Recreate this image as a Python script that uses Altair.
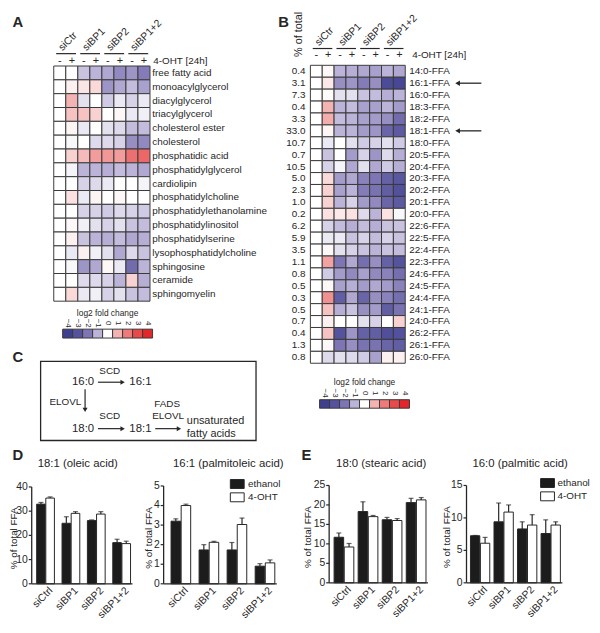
import altair as alt
import pandas as pd

FONT = "Liberation Sans"
INK = "#262626"

# ---------------- data ----------------
signs = ["-", "+"]
A_groups = ["siCtr", "siBP1", "siBP2", "siBP1+2"]
A_lipids = ["free fatty acid", "monoacylglycerol", "diacylglycerol", "triacylglycerol",
            "cholesterol ester", "cholesterol", "phosphatidic acid", "phosphatidylglycerol",
            "cardiolipin", "phosphatidylcholine", "phosphatidylethanolamine",
            "phosphatidylinositol", "phosphatidylserine", "lysophosphatidylcholine",
            "sphingosine", "ceramide", "sphingomyelin"]
A_log2fc = [
    [0, 0.0, -0.8, -1.0, -1.2, -1.7, -1.5, -1.9],
    [0, 0.2, 0.35, 0.5, -1.5, -1.2, -0.9, -1.3],
    [0, 1.0, -0.4, 0.0, -0.7, -0.3, -0.6, -0.3],
    [0, 0.8, 0.8, 0.6, 0.0, 0.1, -0.3, -0.2],
    [0, 0.15, -0.3, 0.0, -0.4, -0.5, -0.9, -0.9],
    [0, -0.1, 0.0, -0.5, -0.5, -0.6, -1.6, -1.7],
    [0, 0.6, 0.9, 1.4, 1.5, 1.4, 2.2, 2.4],
    [0, -0.15, -1.0, -1.0, -1.1, -0.9, -1.0, -1.2],
    [0, 0.0, -0.6, -0.5, -0.3, 0.0, 0.0, -0.15],
    [0, 0.4, -0.3, 0.15, 0.0, 0.1, 0.0, 0.0],
    [0, 0.0, -0.6, -0.6, -0.7, -0.5, -0.6, -0.7],
    [0, 0.1, -0.2, -0.4, -0.6, -0.4, -0.8, -0.9],
    [0, 0.2, -0.8, -1.0, -1.1, -0.9, -1.2, -1.1],
    [0, -0.3, 0.2, -0.2, -0.4, -1.2, -0.5, -0.8],
    [0, -0.1, -1.5, -1.2, 0.1, -0.3, -2.3, -1.0],
    [0, 0.0, -0.5, -0.5, -0.6, -1.0, 0.6, -1.1],
    [0, 0.5, -0.3, -0.2, -0.6, -0.4, -0.8, -0.9],
]

B_groups = ["siCtr", "siBP1", "siBP2", "siBP1+2"]
B_ffa = ["14:0-FFA", "16:1-FFA", "16:0-FFA", "18:3-FFA", "18:2-FFA", "18:1-FFA", "18:0-FFA",
         "20:5-FFA", "20:4-FFA", "20:3-FFA", "20:2-FFA", "20:1-FFA", "20:0-FFA", "22:6-FFA",
         "22:5-FFA", "22:4-FFA", "22:3-FFA", "24:6-FFA", "24:5-FFA", "24:4-FFA", "24:1-FFA",
         "24:0-FFA", "26:2-FFA", "26:1-FFA", "26:0-FFA"]
B_pct = [0.4, 3.1, 7.3, 0.4, 3.3, 33.0, 10.7, 0.7, 10.5, 5.0, 2.3, 1.0, 0.2, 6.2, 5.9, 3.5,
         1.1, 0.8, 0.5, 0.3, 0.5, 0.7, 0.4, 1.3, 0.8]
B_log2fc = [
    [0, 0.1, -1.0, -1.1, -1.2, -1.3, -1.0, -1.2],
    [0, 0.3, -1.6, -1.5, -1.9, -1.6, -3.4, -3.6],
    [0, 0.05, -0.4, -0.4, -0.8, -0.9, -1.1, -1.0],
    [0, 1.0, -1.0, -0.9, -1.3, -1.3, -1.0, -1.4],
    [0, 1.1, -0.9, -1.0, -1.3, -1.4, -1.6, -2.3],
    [0, 0.15, -1.0, -1.0, -1.4, -1.5, -2.5, -2.8],
    [0, -0.3, 0.0, -0.4, -0.7, -0.6, -0.4, -0.7],
    [0, -0.8, 0.0, -1.4, -0.6, -1.5, -0.5, -1.1],
    [0, -0.6, -0.15, -1.2, -0.4, -1.2, -0.7, -1.1],
    [0, 0.5, -1.4, -1.2, -1.8, -2.0, -2.6, -2.9],
    [0, 0.6, -1.3, -1.0, -1.9, -2.1, -2.7, -3.1],
    [0, 0.6, -1.0, -0.6, -1.4, -1.7, -2.5, -2.8],
    [0, 0.4, 0.3, 0.4, -0.5, -1.0, 0.4, -0.1],
    [0, -0.6, -0.9, -1.1, -0.9, -1.1, -0.8, -0.8],
    [0, -0.3, -0.3, -0.8, -0.6, -0.9, -0.6, -0.8],
    [0, 0.1, -0.4, -0.6, -0.8, -1.0, -0.8, -0.9],
    [0, 1.3, -2.0, -1.2, -2.2, -1.6, -2.6, -3.0],
    [0, -0.7, -1.4, -1.7, -1.3, -1.7, -1.8, -2.2],
    [0, 0.1, -1.3, -1.1, -1.4, -1.2, -1.4, -1.8],
    [0, 1.6, -2.7, -1.2, -2.5, -1.6, -1.8, -2.2],
    [0, 0.8, -1.1, -0.8, -1.6, -1.4, -2.7, -2.1],
    [0, 0.2, 0.0, 0.0, -0.4, -0.6, 0.0, 0.6],
    [0, 0.8, -3.0, -1.5, -2.6, -2.7, -3.2, -3.1],
    [0, 0.1, -2.0, -1.6, -2.1, -2.1, -2.5, -2.7],
    [0, -0.5, -0.4, -0.5, -0.7, -1.3, 0.2, 0.2],
]
B_marked = ["16:1-FFA", "18:1-FFA"]

legend_steps = [-4, -3, -2, -1, 0, 1, 2, 3, 4]

bar_groups = ["siCtrl", "siBP1", "siBP2", "siBP1+2"]
treatments = ["ethanol", "4-OHT"]

oleic_eth = [32.9, 25.0, 26.1, 17.0]
oleic_eth_err = [0.7, 2.7, 0.3, 1.4]
oleic_oht = [35.4, 29.1, 28.8, 16.6]
oleic_oht_err = [0.5, 0.7, 1.0, 1.0]

palmitoleic_eth = [3.2, 1.73, 1.73, 0.9]
palmitoleic_eth_err = [0.12, 0.27, 0.38, 0.13]
palmitoleic_oht = [4.0, 2.12, 3.03, 1.07]
palmitoleic_oht_err = [0.07, 0.05, 0.33, 0.15]

stearic_eth = [11.7, 18.3, 16.2, 20.6]
stearic_eth_err = [1.1, 2.5, 0.6, 1.1]
stearic_oht = [9.2, 17.0, 16.0, 21.3]
stearic_oht_err = [0.9, 0.3, 0.5, 0.6]

palmitic_eth = [7.25, 9.4, 8.3, 7.6]
palmitic_eth_err = [0.05, 2.9, 1.1, 2.1]
palmitic_oht = [6.1, 10.9, 8.9, 8.9]
palmitic_oht_err = [0.9, 1.1, 1.6, 0.5]

# ---------------- helpers ----------------
HEAT_RANGE = ["#3f3f8f", "#55539d", "#7e76b4", "#bcb4d8", "#ffffff",
              "#f4b3b3", "#ee7a7a", "#e84a4a", "#e3262a"]


def P(v):
    return v - 8


def cscale():
    return alt.Scale(domain=legend_steps, range=HEAT_RANGE, interpolate="rgb")


ONE = pd.DataFrame({"k": [0]})


def txt(text, x, y, size=11, align="center", baseline="middle", angle=0, weight="normal"):
    return alt.Chart(ONE).mark_text(
        font=FONT, fontSize=size, color=INK, align=align, baseline=baseline,
        angle=angle, fontWeight=weight
    ).encode(x=alt.value(P(x)), y=alt.value(P(y)), text=alt.value(text))


def heatmap(groups, rows, vals, x0, x1, y0, y1, label_x, fs, sign_y, line_y, grp_y, ohtx):
    cols = [f"{g}|{s}" for g in groups for s in signs]
    recs = [{"name": r, "col": c, "v": v} for r, rv in zip(rows, vals) for c, v in zip(cols, rv)]
    xs = alt.Scale(domain=cols, range=[P(x0), P(x1)], paddingInner=0, paddingOuter=0)
    ys = alt.Scale(domain=rows, range=[P(y0), P(y1)], paddingInner=0, paddingOuter=0)
    Y = alt.Y("name:N", scale=ys, axis=None)
    cells = alt.Chart(pd.DataFrame(recs)).mark_rect(stroke="#3a3a3a", strokeWidth=1).encode(
        x=alt.X("col:N", scale=xs, axis=None), y=Y,
        color=alt.Color("v:Q", scale=cscale(), legend=None))
    labels = alt.Chart(pd.DataFrame({"name": rows})).mark_text(
        font=FONT, fontSize=fs, color=INK, align="left", baseline="middle").encode(
        x=alt.value(P(label_x)), y=Y, text="name:N")
    hdr = pd.DataFrame({"col": cols, "sign": [s for g in groups for s in signs]})
    sign_l = alt.Chart(hdr).mark_text(font=FONT, fontSize=11, color=INK).encode(
        x=alt.X("col:N", scale=xs, axis=None), y=alt.value(P(sign_y)), text="sign:N")
    gdf = pd.DataFrame({"g": groups, "minus": cols[0::2], "plus": cols[1::2]})
    under = alt.Chart(gdf).mark_rule(color=INK, strokeWidth=1.2).encode(
        x=alt.X("minus:N", scale=xs, axis=None, bandPosition=0.2),
        x2=alt.X2("plus:N", bandPosition=0.85),
        y=alt.value(P(line_y)))
    glab = alt.Chart(gdf).mark_text(font=FONT, fontSize=10.5, color=INK, align="left",
                                    baseline="alphabetic", angle=315).encode(
        x=alt.X("minus:N", scale=xs, axis=None, bandPosition=0.72),
        y=alt.value(P(grp_y)), text="g:N")
    oht = txt("4-OHT [24h]", ohtx, sign_y, size=10, align="left")
    return [cells, labels, sign_l, under, glab, oht], Y


def heat_legend(x0, x1, top, bot, lbl_y, title_y):
    xs = alt.Scale(domain=legend_steps, range=[P(x0), P(x1)], paddingInner=0, paddingOuter=0)
    df = pd.DataFrame({"step": legend_steps})
    sw = alt.Chart(df).mark_rect(stroke="#3a3a3a", strokeWidth=1).encode(
        x=alt.X("step:O", scale=xs, axis=None), y=alt.value(P(top)), y2=alt.value(P(bot)),
        color=alt.Color("step:Q", scale=cscale(), legend=None))
    lb = alt.Chart(df).mark_text(font=FONT, fontSize=8, color=INK, angle=90).encode(
        x=alt.X("step:O", scale=xs, axis=None), y=alt.value(P(lbl_y)),
        text=alt.Text("step:Q", format="d"))
    title = txt("log2 fold change", (x0 + x1) / 2, title_y, size=8.5)
    return alt.layer(sw, lb, title)


def fill_scale():
    return alt.Scale(domain=treatments, range=["#1c1c1c", "#ffffff"])


def bar_panel(eth, eth_err, oht, oht_err, ymax, ticks, axis_x, x0, x1, ybot, ytop, pin,
              title, title_x, ylab_x):
    df = pd.DataFrame({
        "group": bar_groups * 2,
        "treat": [treatments[0]] * 4 + [treatments[1]] * 4,
        "v": eth + oht,
        "e": eth_err + oht_err,
    })
    df["top"] = df["v"] + df["e"]
    xs = alt.Scale(domain=bar_groups, range=[P(x0), P(x1)], paddingInner=pin, paddingOuter=0)
    xo = alt.Scale(domain=treatments, paddingInner=0.06, paddingOuter=0)
    ys = alt.Scale(domain=[0, ymax], range=[P(ybot), P(ytop)], nice=False, zero=True)
    X = alt.X("group:N", scale=xs, axis=None)
    XO = alt.XOffset("treat:N", scale=xo)
    bars = alt.Chart(df).mark_bar(stroke=INK, strokeWidth=1).encode(
        x=X, xOffset=XO, y=alt.Y("v:Q", scale=ys, axis=None),
        fill=alt.Fill("treat:N", scale=fill_scale(), legend=None))
    err = alt.Chart(df).mark_rule(color=INK, strokeWidth=1.2).encode(
        x=X, xOffset=XO, y=alt.Y("v:Q", scale=ys, axis=None), y2="top:Q")
    cap = alt.Chart(df).mark_tick(color=INK, orient="horizontal", size=5, thickness=1.2).encode(
        x=X, xOffset=XO, y=alt.Y("top:Q", scale=ys, axis=None))
    ext = pd.DataFrame({"lo": [0], "hi": [ymax]})
    yline = alt.Chart(ext).mark_rule(color=INK, strokeWidth=1.3).encode(
        x=alt.value(P(axis_x)), y=alt.Y("lo:Q", scale=ys, axis=None), y2="hi:Q")
    xline = alt.Chart(ext).mark_rule(color=INK, strokeWidth=1.3).encode(
        x=alt.value(P(axis_x)), x2=alt.value(P(x1 + 2)), y=alt.Y("lo:Q", scale=ys, axis=None))
    tdf = pd.DataFrame({"t": ticks})
    tk = alt.Chart(tdf).mark_rule(color=INK, strokeWidth=1.2).encode(
        x=alt.value(P(axis_x - 3)), x2=alt.value(P(axis_x)), y=alt.Y("t:Q", scale=ys, axis=None))
    tl = alt.Chart(tdf).mark_text(font=FONT, fontSize=10.5, color=INK, align="right",
                                  baseline="middle").encode(
        x=alt.value(P(axis_x - 4)), y=alt.Y("t:Q", scale=ys, axis=None),
        text=alt.Text("t:Q", format="d"))
    gl = alt.Chart(pd.DataFrame({"group": bar_groups})).mark_text(
        font=FONT, fontSize=10.5, color=INK, align="right", baseline="top", angle=315,
        dx=3).encode(x=X, y=alt.value(P(ybot + 4)), text="group:N")
    ttl = txt(title, title_x, 466, size=11.5, align="left")
    ylab = txt("% of total FFA", ylab_x, (ybot + ytop) / 2 + 3, size=10, angle=270)
    return alt.layer(bars, err, cap, yline, xline, tk, tl, gl, ttl, ylab)


def bar_legend(x0, x1, y0, y1, text_x):
    ys = alt.Scale(domain=treatments, range=[P(y0), P(y1)], paddingInner=0.33, paddingOuter=0)
    df = pd.DataFrame({"treat": treatments})
    Y = alt.Y("treat:N", scale=ys, axis=None)
    sw = alt.Chart(df).mark_rect(stroke=INK, strokeWidth=1).encode(
        x=alt.value(P(x0)), x2=alt.value(P(x1)), y=Y,
        fill=alt.Fill("treat:N", scale=fill_scale(), legend=None))
    lb = alt.Chart(df).mark_text(font=FONT, fontSize=10, color=INK, align="left",
                                 baseline="middle").encode(
        x=alt.value(P(text_x)), y=Y, text="treat:N")
    return alt.layer(sw, lb)


# ---------------- panel A ----------------
A_layers, _ = heatmap(A_groups, A_lipids, A_log2fc, 54.3, 151.7, 63, 301, 154, 10,
                      57.5, 50.5, 48, 155)
panelA = alt.layer(*A_layers)
legendA = heat_legend(63.3, 154.3, 329.3, 338.3, 323.3, 312.7)

# ---------------- panel B ----------------
B_layers, BY = heatmap(B_groups, B_ffa, B_log2fc, 314, 410, 62.3, 363.8, 414, 10,
                       52.3, 45.3, 43, 417)
pct = alt.Chart(pd.DataFrame({"name": B_ffa, "pct": B_pct})).mark_text(
    font=FONT, fontSize=10, color=INK, align="right", baseline="middle").encode(
    x=alt.value(P(309)), y=BY, text=alt.Text("pct:Q", format=".1f"))
mdf = pd.DataFrame({"name": B_marked})
arrow_line = alt.Chart(mdf).mark_rule(color=INK, strokeWidth=1.3).encode(
    x=alt.value(P(463)), x2=alt.value(P(487)), y=BY)
arrow_head = alt.Chart(mdf).mark_point(shape="triangle-left", filled=True, size=30,
                                       color=INK, opacity=1).encode(
    x=alt.value(P(463)), y=BY)
pct_title = txt("% of total", 303, 31, size=11, angle=270)
panelB = alt.layer(*B_layers, pct, arrow_line, arrow_head, pct_title)
legendB = heat_legend(323.3, 414.3, 400.7, 409.3, 394, 383.3)


# ---------------- panel C (schematic) ----------------
def hline(x0, x1, y):
    return alt.Chart(ONE).mark_rule(color=INK, strokeWidth=1.2).encode(
        x=alt.value(P(x0)), x2=alt.value(P(x1)), y=alt.value(P(y)))


def head(x, y, shape):
    return alt.Chart(ONE).mark_point(shape=shape, filled=True, size=26, color=INK,
                                     opacity=1).encode(x=alt.value(P(x)), y=alt.value(P(y)))


box = alt.Chart(ONE).mark_rect(fill=None, stroke=INK, strokeWidth=1.3).encode(
    x=alt.value(P(41)), x2=alt.value(P(259)), y=alt.value(P(362)), y2=alt.value(P(442)))
vline = alt.Chart(ONE).mark_rule(color=INK, strokeWidth=1.2).encode(
    x=alt.value(P(86)), y=alt.value(P(390)), y2=alt.value(P(410)))
panelC = alt.layer(
    box,
    txt("16:0", 84, 383, 11.5), txt("16:1", 142, 383, 11.5),
    txt("18:0", 84, 430, 11.5), txt("18:1", 142, 430, 11.5),
    txt("SCD", 111, 372, 10), txt("SCD", 111, 417, 10),
    txt("ELOVL", 66, 403, 10), txt("FADS", 169, 405, 10), txt("ELOVL", 170, 417, 10),
    txt("unsaturated", 189, 422, 11, align="left"), txt("fatty acids", 189, 435, 11, align="left"),
    hline(99, 123, 383), head(124, 383, "triangle-right"),
    hline(99, 123, 430), head(124, 430, "triangle-right"),
    hline(157, 180, 430), head(181, 430, "triangle-right"),
    vline, head(86, 411, "triangle-down"),
)

# ---------------- panels D, E ----------------
D1 = bar_panel(oleic_eth, oleic_eth_err, oleic_oht, oleic_oht_err, 40, [0, 10, 20, 30, 40],
               32, 37, 132, 587, 489, 0.3, "18:1 (oleic acid)", 38, 14)
D2 = bar_panel(palmitoleic_eth, palmitoleic_eth_err, palmitoleic_oht, palmitoleic_oht_err, 5,
               [0, 1, 2, 3, 4, 5], 165.5, 173, 278, 587, 488, 0.3,
               "16:1 (palmitoleic acid)", 175, 151)
E1 = bar_panel(stearic_eth, stearic_eth_err, stearic_oht, stearic_oht_err, 25,
               [0, 5, 10, 15, 20, 25], 333, 338, 431, 586, 487.5, 0.18,
               "18:0 (stearic acid)", 340, 312)
E2 = bar_panel(palmitic_eth, palmitic_eth_err, palmitic_oht, palmitic_oht_err, 15,
               [0, 5, 10, 15], 472, 476, 567, 586, 487.5, 0.18,
               "16:0 (palmitic acid)", 478, 452)
legD = bar_legend(233, 247, 481.5, 504, 251)
legE = bar_legend(547, 561, 480.5, 503, 564)

letters = alt.layer(
    txt("A", 18, 19, 15, weight="bold"), txt("B", 287, 19, 15, weight="bold"),
    txt("C", 18, 358, 15, weight="bold"), txt("D", 18, 457, 15, weight="bold"),
    txt("E", 310, 457, 15, weight="bold"),
)

chart = alt.layer(
    panelA, legendA, panelB, legendB, panelC, D1, D2, legD, E1, E2, legE, letters
).resolve_scale(
    x="independent", y="independent", color="independent", fill="independent",
    xOffset="independent"
).properties(
    width=591, height=617, autosize=alt.AutoSizeParams(type="none"), padding=0
).configure_view(stroke=None)

chart.save("out.html", embed_options={"renderer": "svg", "actions": False})
